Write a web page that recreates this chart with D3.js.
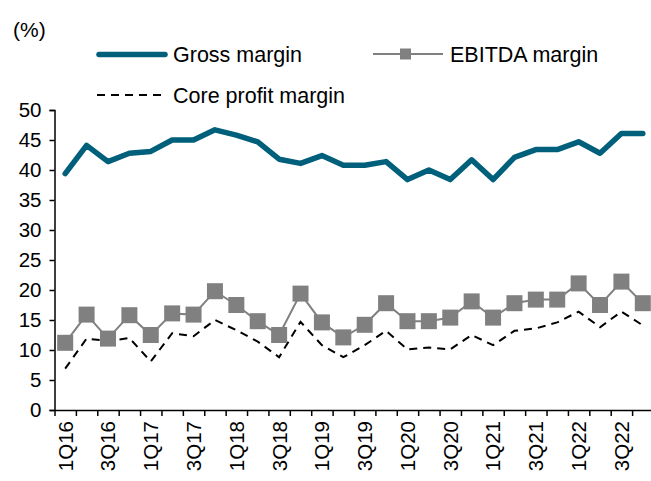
<!DOCTYPE html>
<html>
<head>
<meta charset="utf-8">
<script src="https://cdn.jsdelivr.net/npm/d3@7"></script>
<style>
  body { margin: 0; background: #fff; }
  text { font-family: Arial, "Liberation Sans", sans-serif; fill: #000; }
</style>
</head>
<body>
<script>
const quarters = ['1Q16','2Q16','3Q16','4Q16','1Q17','2Q17','3Q17','4Q17',
  '1Q18','2Q18','3Q18','4Q18','1Q19','2Q19','3Q19','4Q19',
  '1Q20','2Q20','3Q20','4Q20','1Q21','2Q21','3Q21','4Q21',
  '1Q22','2Q22','3Q22','4Q22'];
const grossMargin = [39.4, 44.1, 41.4, 42.8, 43.1, 45.0, 45.0, 46.7, 45.8, 44.7, 41.8, 41.1, 42.4, 40.8,
  40.8, 41.4, 38.4, 40.0, 38.4, 41.7, 38.4, 42.1, 43.4, 43.4, 44.7, 42.8, 46.1, 46.1];
const ebitdaMargin = [11.2, 15.9, 11.9, 15.8, 12.5, 16.1, 15.9, 19.8, 17.5, 14.8, 12.5, 19.4, 14.6, 12.1,
  14.2, 17.8, 14.8, 14.8, 15.4, 18.1, 15.4, 17.8, 18.4, 18.4, 21.1, 17.5, 21.4, 17.8];
const coreMargin = [6.9, 11.9, 11.5, 12.0, 8.1, 12.8, 12.3, 15.0, 13.3, 11.4, 8.8, 14.7, 10.8, 8.8,
  10.8, 13.2, 10.1, 10.4, 10.1, 12.5, 10.8, 13.2, 13.6, 14.6, 16.4, 13.8, 16.4, 14.1];
const yTicks = [0, 5, 10, 15, 20, 25, 30, 35, 40, 45, 50];
const shownLabels = quarters.filter(q => q[0] === '1' || q[0] === '3');

const width = 651, height = 481;
const plotLeft = 54.5, plotRight = 653.5, plotTop = 110, plotBottom = 410;

const svg = d3.select('body').append('svg')
  .attr('width', width)
  .attr('height', height);

const x = d3.scaleBand().domain(quarters).range([plotLeft, plotRight]);
const xEdge = d3.scaleLinear().domain([0, quarters.length]).range([plotLeft, plotRight]);
const y = d3.scaleLinear().domain([0, 50]).range([plotBottom, plotTop]);

// y axis
const yAxis = svg.append('g')
  .attr('transform', `translate(${plotLeft},0)`)
  .call(d3.axisLeft(y).tickValues(yTicks).tickSize(5).tickPadding(8));
yAxis.selectAll('path, line').attr('stroke', '#000').attr('stroke-width', 1.5);
yAxis.selectAll('text').style('font-size', '20.5px').attr('fill', '#000');

// x axis: ticks on band edges
const xAxis = svg.append('g')
  .attr('transform', `translate(0,${plotBottom})`)
  .call(d3.axisBottom(xEdge).tickValues(d3.range(0, quarters.length + 1)).tickSize(6).tickSizeOuter(0).tickFormat(''));
xAxis.selectAll('path, line').attr('stroke', '#000').attr('stroke-width', 1.5);

// x labels, every other quarter
const xLabels = svg.append('g')
  .attr('transform', `translate(0,${plotBottom})`)
  .call(d3.axisBottom(x).tickValues(shownLabels).tickSize(0));
xLabels.select('.domain').remove();
xLabels.selectAll('text')
  .style('font-size', '20.5px')
  .attr('fill', '#000')
  .attr('text-anchor', 'end')
  .attr('transform', 'rotate(-90)')
  .attr('x', -11)
  .attr('y', 0)
  .attr('dy', '0.36em');

const cx = i => x(quarters[i]) + x.bandwidth() / 2;

const line = d3.line().x((d, i) => cx(i)).y(d => y(d));

svg.append('path')
  .datum(coreMargin)
  .attr('d', line)
  .attr('fill', 'none')
  .attr('stroke', '#000')
  .attr('stroke-width', 2)
  .attr('stroke-dasharray', '8,6');

svg.append('path')
  .datum(ebitdaMargin)
  .attr('d', line)
  .attr('fill', 'none')
  .attr('stroke', '#808080')
  .attr('stroke-width', 2);

svg.append('g').selectAll('rect')
  .data(ebitdaMargin)
  .enter().append('rect')
  .attr('x', (d, i) => cx(i) - 8)
  .attr('y', d => y(d) - 8)
  .attr('width', 16)
  .attr('height', 16)
  .attr('fill', '#808080');

svg.append('path')
  .datum(grossMargin)
  .attr('d', line)
  .attr('fill', 'none')
  .attr('stroke', '#005f7a')
  .attr('stroke-width', 5.5)
  .attr('stroke-linecap', 'round')
  .attr('stroke-linejoin', 'round');

// unit label
svg.append('text').attr('x', 13).attr('y', 37).style('font-size', '21px').text('(%)');

// legend
const legend = svg.append('g');
legend.append('line')
  .attr('x1', 99).attr('x2', 165).attr('y1', 54.5).attr('y2', 54.5)
  .attr('stroke', '#005f7a').attr('stroke-width', 5.5).attr('stroke-linecap', 'round');
legend.append('text').attr('x', 173).attr('y', 62).style('font-size', '21.5px').text('Gross margin');

legend.append('line')
  .attr('x1', 373).attr('x2', 443).attr('y1', 54).attr('y2', 54)
  .attr('stroke', '#808080').attr('stroke-width', 2);
legend.append('rect')
  .attr('x', 400).attr('y', 48.5).attr('width', 11).attr('height', 11)
  .attr('fill', '#808080');
legend.append('text').attr('x', 450).attr('y', 62).style('font-size', '21.5px').text('EBITDA margin');

legend.append('line')
  .attr('x1', 97).attr('x2', 161).attr('y1', 95).attr('y2', 95)
  .attr('stroke', '#000').attr('stroke-width', 2).attr('stroke-dasharray', '8,6');
legend.append('text').attr('x', 173).attr('y', 103).style('font-size', '21.5px').text('Core profit margin');
</script>
</body>
</html>
